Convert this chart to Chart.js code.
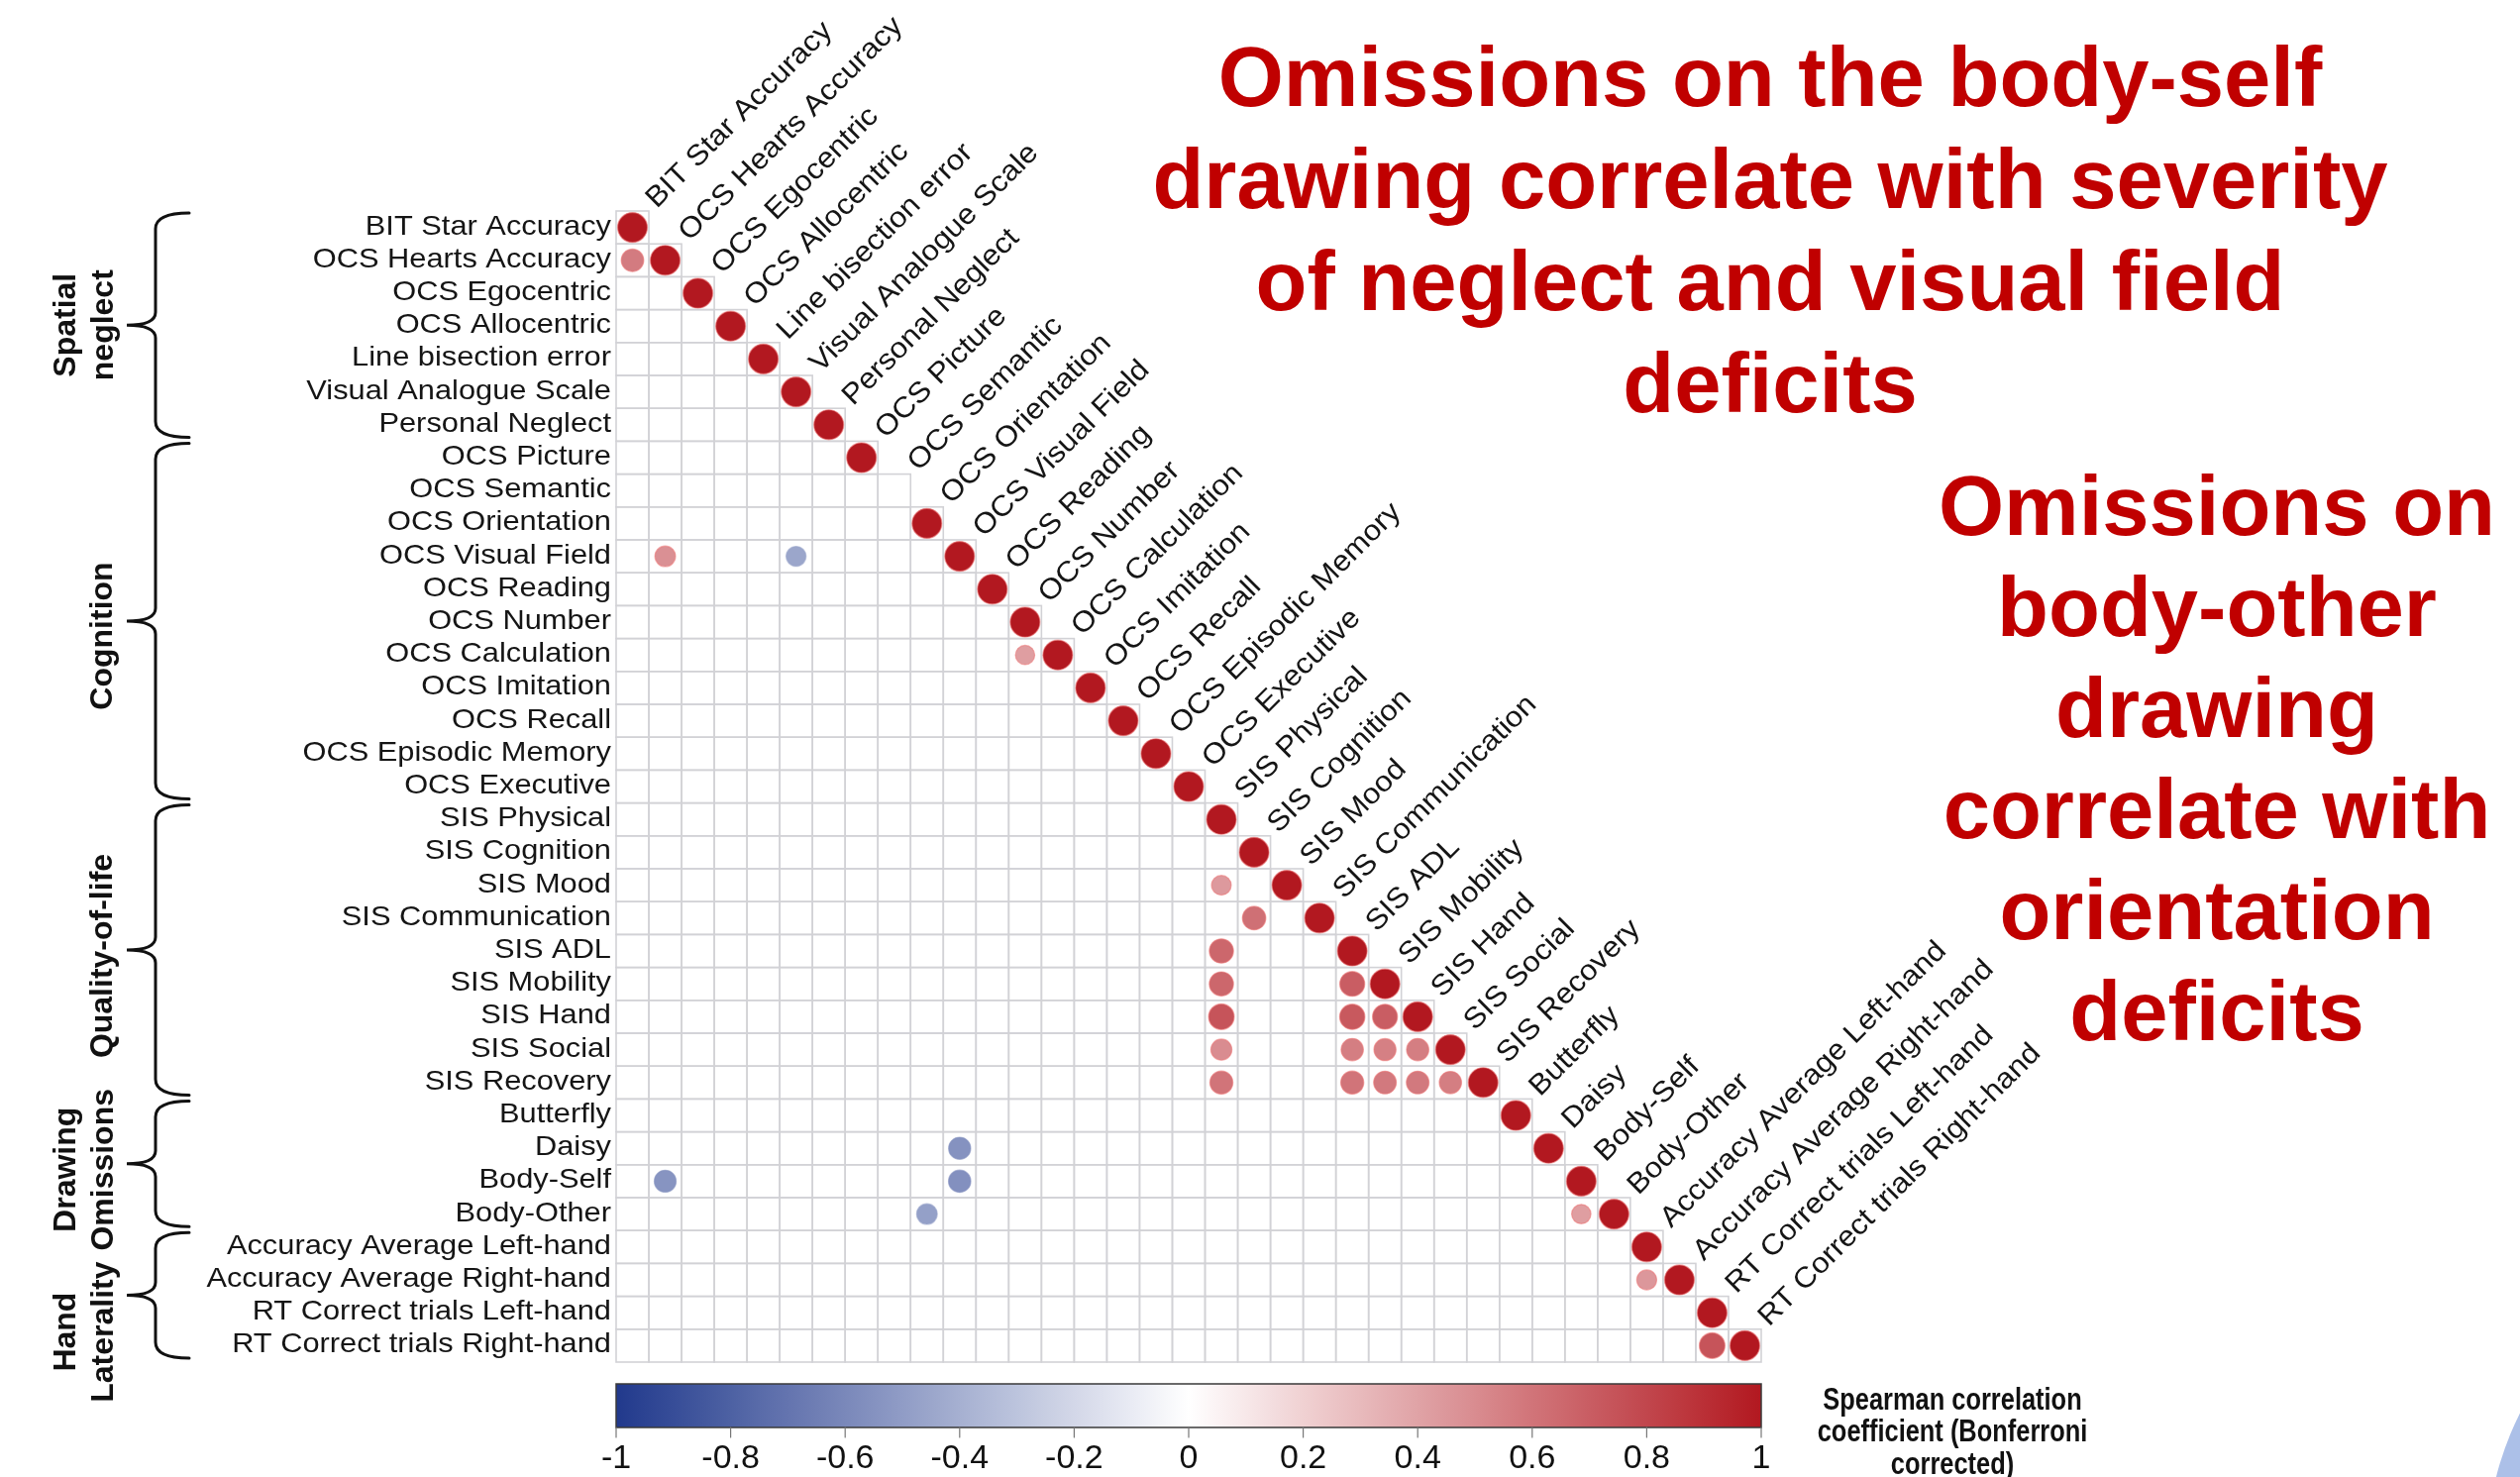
<!DOCTYPE html>
<html>
<head>
<meta charset="utf-8">
<title>Spearman correlation matrix</title>
<script src="https://cdn.jsdelivr.net/npm/chart.js@4.4.1/dist/chart.umd.min.js"></script>
<style>
  html, body { margin: 0; padding: 0; background: #ffffff; overflow: hidden; }
  canvas { display: block; }
</style>
</head>
<body>
<canvas id="corr" width="2544" height="1491"></canvas>
<script>
// ---- Data -----------------------------------------------------------------
const variables = [
  'BIT Star Accuracy', 'OCS Hearts Accuracy', 'OCS Egocentric', 'OCS Allocentric',
  'Line bisection error', 'Visual Analogue Scale', 'Personal Neglect',
  'OCS Picture', 'OCS Semantic', 'OCS Orientation', 'OCS Visual Field', 'OCS Reading',
  'OCS Number', 'OCS Calculation', 'OCS Imitation', 'OCS Recall', 'OCS Episodic Memory',
  'OCS Executive',
  'SIS Physical', 'SIS Cognition', 'SIS Mood', 'SIS Communication', 'SIS ADL',
  'SIS Mobility', 'SIS Hand', 'SIS Social', 'SIS Recovery',
  'Butterfly', 'Daisy', 'Body-Self', 'Body-Other',
  'Accuracy Average Left-hand', 'Accuracy Average Right-hand',
  'RT Correct trials Left-hand', 'RT Correct trials Right-hand'
];

// Self-correlation on the diagonal (OCS Semantic had no variance, so no value)
const diagonalRho = [
  1, 1, 1, 1, 1, 1, 1,
  1, null, 1, 1, 1, 1, 1, 1, 1, 1, 1,
  1, 1, 1, 1, 1, 1, 1, 1, 1,
  1, 1, 1, 1,
  1, 1, 1, 1
];

// Significant off-diagonal pairs: row variable, column variable, rho
const pairRow = [1, 10, 10, 13, 20, 21, 22, 23, 23, 24, 24, 24, 25, 25, 25, 25, 26, 26, 26, 26, 26, 28, 29, 29, 30, 30, 32, 34];
const pairCol = [0, 1, 5, 12, 18, 19, 18, 18, 22, 18, 22, 23, 18, 22, 23, 24, 18, 22, 23, 24, 25, 10, 1, 10, 9, 29, 31, 33];
const pairRho = [0.57, 0.48, -0.45, 0.42, 0.44, 0.62, 0.66, 0.66, 0.70, 0.74, 0.72, 0.70,
                 0.50, 0.56, 0.55, 0.56, 0.60, 0.60, 0.58, 0.58, 0.56,
                 -0.55, -0.54, -0.56, -0.48, 0.42, 0.45, 0.74];

// Variable groups shown with braces on the left
const groupNames = [['Spatial', 'neglect'], ['Cognition'], ['Quality-of-life'], ['Drawing', 'Omissions'], ['Hand', 'Laterality']];
const groupFirst = [0, 7, 18, 27, 31];
const groupLast = [6, 17, 26, 30, 34];

// Colour bar
const colorbarTicks = [-1, -0.8, -0.6, -0.4, -0.2, 0, 0.2, 0.4, 0.6, 0.8, 1];
const colorbarTickLabels = ['-1', '-0.8', '-0.6', '-0.4', '-0.2', '0', '0.2', '0.4', '0.6', '0.8', '1'];
const colorbarTitle = ['Spearman correlation', 'coefficient (Bonferroni', 'corrected)'];

// Headlines
const headlineSelf = ['Omissions on the body-self', 'drawing correlate with severity', 'of neglect and visual field', 'deficits'];
const headlineOther = ['Omissions on', 'body-other', 'drawing', 'correlate with', 'orientation', 'deficits'];

// ---- Helpers --------------------------------------------------------------
const RED_END = [178, 24, 32];
const BLUE_END = [33, 57, 140];

function rhoColor(v, alpha) {
  const t = Math.min(1, Math.abs(v));
  const end = v >= 0 ? RED_END : BLUE_END;
  const c = end.map(e => Math.round(255 + (e - 255) * t));
  return alpha === undefined ? `rgb(${c[0]},${c[1]},${c[2]})` : `rgba(${c[0]},${c[1]},${c[2]},${alpha})`;
}

const points = [];
diagonalRho.forEach((v, i) => { if (v !== null) points.push({ x: i, y: i, rho: v }); });
pairRho.forEach((v, k) => points.push({ x: pairCol[k], y: pairRow[k], rho: v }));

const LABEL_FONT = '"Liberation Sans", Arial, Helvetica, sans-serif';
// vertical nudge of each group caption relative to its brace centre
const GROUP_CAPTION_SHIFT = [0, 15, 6, 6, 37];

function cellSize(chart) {
  const xs = chart.scales.x;
  return Math.abs(xs.getPixelForValue(1) - xs.getPixelForValue(0));
}

// ---- Plugins ----------------------------------------------------------------
const background = {
  id: 'background',
  beforeDraw(chart) {
    const ctx = chart.ctx;
    ctx.save();
    ctx.fillStyle = '#ffffff';
    ctx.fillRect(0, 0, chart.width, chart.height);
    // pale blue slide decoration in the corner
    ctx.beginPath();
    ctx.arc(2830, 1570, 320, 0, Math.PI * 2);
    ctx.fillStyle = 'rgb(172,192,232)';
    ctx.fill();
    ctx.restore();
  }
};

const lowerGrid = {
  id: 'lowerGrid',
  beforeDatasetsDraw(chart) {
    const ctx = chart.ctx, xs = chart.scales.x, ys = chart.scales.y;
    const n = variables.length;
    ctx.save();
    ctx.strokeStyle = '#d2d2d6';
    ctx.lineWidth = 1.6;
    for (let i = 0; i < n; i++) {
      for (let j = 0; j <= i; j++) {
        const x0 = xs.getPixelForValue(j - 0.5), x1 = xs.getPixelForValue(j + 0.5);
        const y0 = ys.getPixelForValue(i - 0.5), y1 = ys.getPixelForValue(i + 0.5);
        ctx.strokeRect(x0, y0, x1 - x0, y1 - y0);
      }
    }
    ctx.restore();
  }
};

function drawBrace(ctx, top, bottom) {
  const xv = 157, xe = 191, xt = 128;
  const mid = (top + bottom) / 2;
  ctx.beginPath();
  ctx.moveTo(xe, top);
  ctx.quadraticCurveTo(xv, top, xv, top + 16);
  ctx.lineTo(xv, mid - 13);
  ctx.quadraticCurveTo(xv, mid, xt, mid);
  ctx.quadraticCurveTo(xv, mid, xv, mid + 13);
  ctx.lineTo(xv, bottom - 16);
  ctx.quadraticCurveTo(xv, bottom, xe, bottom);
  ctx.stroke();
}

const annotations = {
  id: 'annotations',
  afterDraw(chart) {
    const ctx = chart.ctx, xs = chart.scales.x, ys = chart.scales.y;
    const left = xs.getPixelForValue(-0.5);
    const right = xs.getPixelForValue(variables.length - 0.5);
    ctx.save();

    // Row labels
    ctx.fillStyle = '#151515';
    ctx.font = `28px ${LABEL_FONT}`;
    ctx.textAlign = 'right';
    ctx.textBaseline = 'alphabetic';
    variables.forEach((name, i) => {
      ctx.save();
      ctx.translate(left - 5, ys.getPixelForValue(i) + 7);
      ctx.scale(1.1, 1);
      ctx.fillText(name, 0, 0);
      ctx.restore();
    });

    // Column labels along the diagonal
    ctx.textAlign = 'left';
    ctx.font = `29px ${LABEL_FONT}`;
    variables.forEach((name, j) => {
      ctx.save();
      ctx.translate(xs.getPixelForValue(j + 0.5) + 8, ys.getPixelForValue(j - 0.5) - 2);
      ctx.rotate(-Math.PI / 4);
      ctx.scale(1.08, 1);
      ctx.fillText(name, 0, 0);
      ctx.restore();
    });

    // Group braces and labels
    ctx.strokeStyle = '#111111';
    ctx.lineWidth = 3;
    ctx.lineCap = 'round';
    ctx.fillStyle = '#111111';
    ctx.font = `bold 32px ${LABEL_FONT}`;
    ctx.textAlign = 'center';
    ctx.textBaseline = 'middle';
    groupNames.forEach((lines, g) => {
      const top = ys.getPixelForValue(groupFirst[g] - 0.5) + 2;
      const bottom = ys.getPixelForValue(groupLast[g] + 0.5) - 4;
      drawBrace(ctx, top, bottom);
      const mid = (top + bottom) / 2 + GROUP_CAPTION_SHIFT[g];
      const xsText = lines.length === 2 ? [67, 105] : [104];
      lines.forEach((txt, k) => {
        ctx.save();
        ctx.translate(xsText[k], mid);
        ctx.rotate(-Math.PI / 2);
        ctx.fillText(txt, 0, 0);
        ctx.restore();
      });
    });

    // Colour bar
    const cbTop = 1397, cbBottom = 1441;
    const grad = ctx.createLinearGradient(left, 0, right, 0);
    for (let s = 0; s <= 40; s++) {
      const v = -1 + s / 20;
      grad.addColorStop(s / 40, rhoColor(v));
    }
    ctx.fillStyle = grad;
    ctx.fillRect(left, cbTop, right - left, cbBottom - cbTop);
    ctx.strokeStyle = '#3a3a3a';
    ctx.lineWidth = 1.5;
    ctx.strokeRect(left, cbTop, right - left, cbBottom - cbTop);

    ctx.strokeStyle = '#777777';
    ctx.lineWidth = 1.2;
    ctx.fillStyle = '#111111';
    ctx.font = `34px ${LABEL_FONT}`;
    ctx.textAlign = 'center';
    ctx.textBaseline = 'alphabetic';
    colorbarTicks.forEach((v, k) => {
      const x = left + (v + 1) / 2 * (right - left);
      ctx.beginPath();
      ctx.moveTo(x, cbBottom);
      ctx.lineTo(x, cbBottom + 10);
      ctx.stroke();
      ctx.fillText(colorbarTickLabels[k], x, 1482);
    });

    // Colour bar title
    ctx.font = `bold 31px ${LABEL_FONT}`;
    ctx.textBaseline = 'middle';
    colorbarTitle.forEach((txt, k) => {
      ctx.save();
      ctx.translate(1971, 1414 + k * 32.5);
      ctx.scale(0.82, 1);
      ctx.fillText(txt, 0, 0);
      ctx.restore();
    });

    // Headlines
    ctx.fillStyle = '#c00000';
    ctx.font = `bold 85px ${LABEL_FONT}`;
    ctx.textBaseline = 'alphabetic';
    headlineSelf.forEach((txt, k) => ctx.fillText(txt, 1787, 107 + k * 103));
    headlineOther.forEach((txt, k) => ctx.fillText(txt, 2238, 540 + k * 102));

    ctx.restore();
  }
};

// ---- Chart ------------------------------------------------------------------
new Chart(document.getElementById('corr'), {
  type: 'scatter',
  data: {
    datasets: [{
      data: points,
      pointStyle: 'circle',
      pointRadius(ctx) {
        if (!ctx.raw) return 0;
        return cellSize(ctx.chart) * 0.455 * Math.sqrt(Math.abs(ctx.raw.rho));
      },
      pointHoverRadius(ctx) {
        if (!ctx.raw) return 0;
        return cellSize(ctx.chart) * 0.455 * Math.sqrt(Math.abs(ctx.raw.rho));
      },
      pointBackgroundColor(ctx) {
        return ctx.raw ? rhoColor(ctx.raw.rho) : '#ffffff';
      },
      pointBorderColor(ctx) {
        if (!ctx.raw) return 'transparent';
        return ctx.raw.rho > 0 ? 'rgba(236,120,120,0.6)' : rhoColor(ctx.raw.rho, 0.6);
      },
      pointBorderWidth: 1.2
    }]
  },
  options: {
    responsive: false,
    animation: false,
    events: [],
    layout: { padding: { left: 622, top: 213, right: 766, bottom: 116 } },
    scales: {
      x: { type: 'linear', min: -0.5, max: 34.5, display: false },
      y: { type: 'linear', min: -0.5, max: 34.5, reverse: true, display: false }
    },
    plugins: {
      legend: { display: false },
      tooltip: { enabled: false }
    }
  },
  plugins: [background, lowerGrid, annotations]
});
</script>
</body>
</html>
